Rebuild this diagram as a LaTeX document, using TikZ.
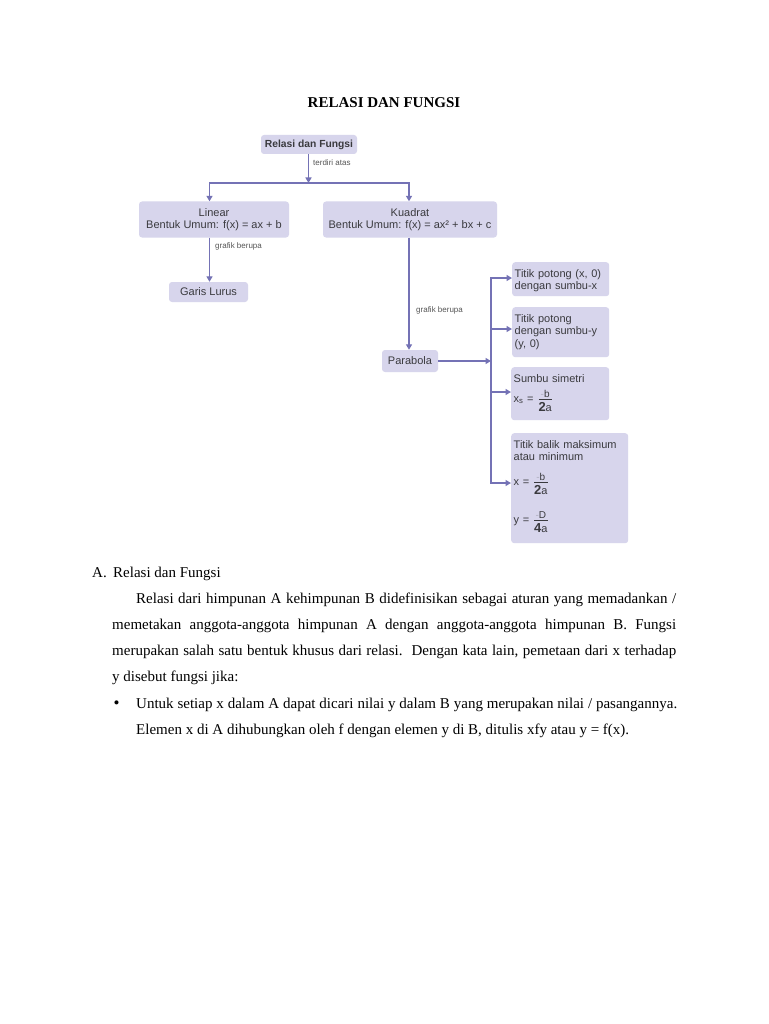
\documentclass[tikz,border=0pt]{standalone}
\usepackage{fontspec}
\setmainfont{Liberation Serif}
\newfontfamily\dsans{Liberation Sans}
\usetikzlibrary{arrows.meta}
\definecolor{boxfill}{RGB}{215,213,236}
\definecolor{linecol}{RGB}{116,114,181}
\definecolor{boxtext}{RGB}{58,58,62}
\definecolor{labeltext}{RGB}{85,85,85}
\definecolor{faint}{RGB}{175,175,190}
\tikzset{
	box/.style={fill=boxfill, rounded corners=3pt, inner sep=2.5pt, text=boxtext, font=\dsans\fontsize{11}{12.5}\selectfont},
	sidebox/.style={box, anchor=north west, align=left, text height=12.5pt},
	conn/.style={draw=linecol, line width=1.8pt, line cap=rect},
	arr/.style={draw=linecol, line width=1.8pt, -{Triangle[width=6pt,length=5.5pt]}},
	lbl/.style={text=labeltext, inner sep=0pt, anchor=base west, font=\dsans\fontsize{8}{9}\selectfont},
	body/.style={inner sep=0pt, anchor=base west, font=\fontsize{15}{26}\selectfont},
}
\newcommand{\rumus}[2]{\smash{${\mbox{\fontsize{10}{10}\selectfont\textcolor{faint}{-}#1}\above 0.9pt\mbox{\rule{0pt}{11pt}\fontsize{13}{13}\selectfont\bfseries #2}}$}}
\newcommand{\kecil}[1]{{\mdseries\fontsize{11}{11}\selectfont #1}}

\begin{document}
\begin{tikzpicture}[x=1pt, y=-1pt]
			%%%%% START %%%%%
			\fill[white] (0,0) rectangle (768,1024);
			\useasboundingbox (0,0) rectangle (768,1024);
			
			\node[inner sep=0pt, anchor=base, font=\bfseries\fontsize{15}{18}\selectfont] (judul) at (384,107.7) {RELASI DAN FUNGSI};
			
			% peta konsep
			\node[box, font=\dsans\bfseries\fontsize{10.3}{12}\selectfont, minimum width=96, minimum height=19] (rdf) at (309,144.5) {Relasi dan Fungsi};
			\node[box, align=center, minimum width=150, minimum height=36] (lin) at (214,219.5) {Linear\\Bentuk Umum: f(x) = ax + b};
			\node[box, align=center, minimum width=174, minimum height=36] (kua) at (410,219.5) {Kuadrat\\Bentuk Umum: f(x) = ax² + bx + c};
			\node[box, minimum width=79, minimum height=20] (gar) at (208.5,292) {Garis Lurus};
			\node[box, minimum width=56, minimum height=22] (par) at (410,361) {Parabola};
			
			\node[sidebox, text width=92, text depth=16.5pt] (tp1) at (512,262) {Titik potong (x, 0)\\dengan sumbu-x};
			\node[sidebox, text width=92, text depth=32.5pt] (tp2) at (512,307) {Titik potong\\dengan sumbu-y\\(y, 0)};
			\node[sidebox, text width=93, text depth=35.5pt] (sim) at (511,367) {Sumbu simetri\\[7.5pt]x\textsubscript{s} = \rumus{b}{2\kecil{a}}};
			\node[sidebox, text width=112, text depth=92.5pt] (bal) at (511,433) {Titik balik maksimum\\atau minimum\\[12pt]x = \rumus{b}{2\kecil{a}}\\[25.5pt]y = \rumus{D}{4\kecil{a}}};
			
			\coordinate (jn) at (308.5,183);
			\coordinate (jl) at (209.5,183);
			\coordinate (jk) at (409,183);
			\draw[arr] (jn |- rdf.south) -- (jn);
			\draw[conn] (jl) -- (jk);
			\draw[arr] (jl) -- (jl |- lin.north);
			\draw[arr] (jk) -- (jk |- kua.north);
			\draw[arr] (jl |- lin.south) -- (jl |- gar.north);
			\draw[arr] (jk |- kua.south) -- (jk |- par.north);
			
			\node[lbl] (ta) at (313,166) {terdiri atas};
			\node[lbl] (gb1) at (215,248) {grafik berupa};
			\node[lbl] (gb2) at (416,312) {grafik berupa};
			
			\coordinate (hub) at (491,361);
			\coordinate (h1) at (491,278);
			\coordinate (h2) at (491,329);
			\coordinate (h3) at (491,392);
			\coordinate (h4) at (491,483);
			\draw[arr] (par.east) -- (hub);
			\draw[conn] (h1) -- (h4);
			\foreach \h/\b in {h1/tp1, h2/tp2, h3/sim, h4/bal}
				\draw[arr] (\h) -- (\h -| \b.west);
			
			% teks
			\node[body] (hurufA) at (92,577) {A.};
			\node[body] (subjudul) at (113,577) {Relasi dan Fungsi};
			\node[body, text width=564, align=justify] (paragraf) at (112,603) {\hyphenpenalty=10000\exhyphenpenalty=10000\hspace*{24pt}Relasi dari himpunan A kehimpunan B didefinisikan sebagai aturan yang memadankan /\linebreak memetakan anggota-anggota himpunan A dengan anggota-anggota himpunan B. Fungsi\linebreak merupakan salah satu bentuk khusus dari relasi.\ \ Dengan kata lain, pemetaan dari x terhadap\linebreak y disebut fungsi jika:};
			\node[body, font=\fontsize{17}{26}\selectfont] (titik) at (113.5,708) {\textbullet};
			\node[body, text width=541, align=justify] (butir) at (136,708) {\hyphenpenalty=10000\exhyphenpenalty=10000 Untuk setiap x dalam A dapat dicari nilai y dalam B yang merupakan nilai / pasangannya.\linebreak Elemen x di A dihubungkan oleh f dengan elemen y di B, ditulis xfy atau y = f(x).};
			
			%%%%% END %%%%%
		\end{tikzpicture}
\end{document}
